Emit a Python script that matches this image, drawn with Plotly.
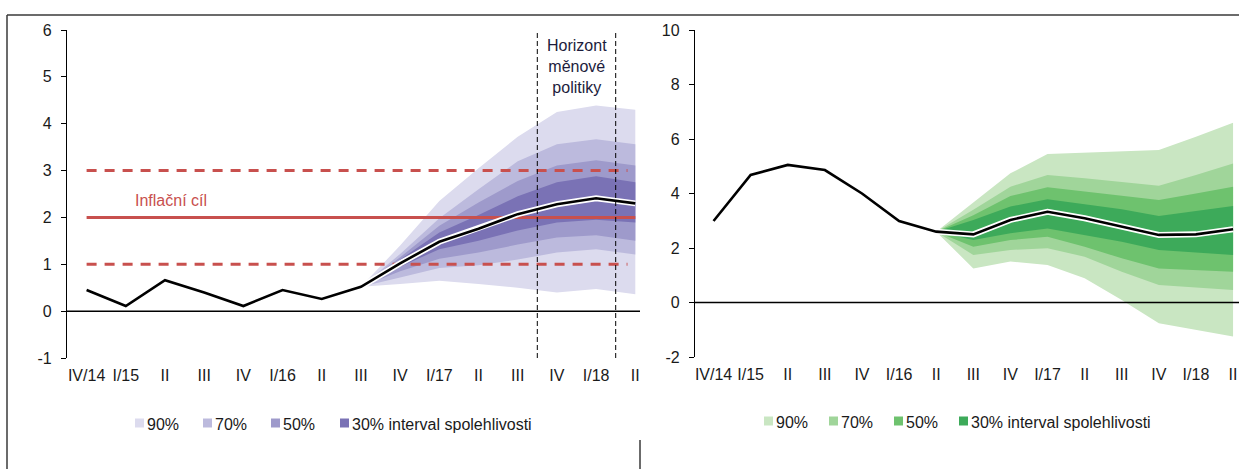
"""Fan charts: inflation forecast (left) and GDP growth forecast (right)."""

import plotly.graph_objects as go

W, H = 1239, 469

quarters = ["IV/14", "I/15", "II", "III", "IV", "I/16", "II", "III",
            "IV", "I/17", "II", "III", "IV", "I/18", "II"]

# left panel - inflation, fan starts at III/16
inflation = [0.45, 0.11, 0.66, 0.40, 0.11, 0.45, 0.26, 0.52,
             1.02, 1.48, 1.76, 2.07, 2.28, 2.41, 2.30]
infl_fan_start = 7
infl_u90 = [0.52, 1.40, 2.35, 3.05, 3.72, 4.25, 4.39, 4.30]
infl_u70 = [0.52, 1.22, 1.98, 2.60, 3.20, 3.56, 3.67, 3.56]
infl_u50 = [0.52, 1.15, 1.82, 2.32, 2.78, 3.11, 3.22, 3.11]
infl_u30 = [0.52, 1.10, 1.68, 2.05, 2.45, 2.75, 2.88, 2.75]
infl_l30 = [0.52, 0.95, 1.32, 1.50, 1.72, 1.89, 1.95, 1.89]
infl_l50 = [0.52, 0.85, 1.12, 1.25, 1.42, 1.57, 1.62, 1.50]
infl_l70 = [0.52, 0.72, 0.92, 0.98, 1.10, 1.25, 1.32, 1.21]
infl_l90 = [0.52, 0.58, 0.65, 0.58, 0.50, 0.40, 0.47, 0.36]
infl_ticks = [-1, 0, 1, 2, 3, 4, 5, 6]
target = 2
target_band = [1, 3]
horizon = [11.5, 13.5]

# right panel - GDP, fan starts at II/16
gdp = [2.99, 4.68, 5.05, 4.86, 4.00, 2.99, 2.60, 2.50,
       3.03, 3.33, 3.09, 2.78, 2.48, 2.50, 2.69]
gdp_fan_start = 6
gdp_u90 = [2.60, 3.66, 4.74, 5.45, 5.50, 5.55, 5.60, 6.08, 6.60]
gdp_u70 = [2.60, 3.40, 4.25, 4.68, 4.56, 4.43, 4.28, 4.68, 5.10]
gdp_u50 = [2.60, 3.20, 3.91, 4.23, 4.07, 3.91, 3.76, 4.00, 4.25]
gdp_u30 = [2.60, 3.03, 3.52, 3.79, 3.61, 3.42, 3.17, 3.36, 3.54]
gdp_l30 = [2.60, 2.29, 2.54, 2.72, 2.48, 2.23, 1.93, 1.83, 1.74]
gdp_l50 = [2.60, 2.05, 2.29, 2.41, 2.05, 1.62, 1.25, 1.19, 1.13]
gdp_l70 = [2.60, 1.74, 1.93, 1.99, 1.68, 1.13, 0.64, 0.56, 0.46]
gdp_l90 = [2.60, 1.25, 1.50, 1.38, 0.89, 0.09, -0.76, -1.00, -1.25]
gdp_ticks = [-2, 0, 2, 4, 6, 8, 10]

band_names = ["90%", "70%", "50%", "30% interval spolehlivosti"]
purples = ["#DCDBEE", "#BCBADD", "#9E9ACB", "#7A72B5"]
greens = ["#C9E6C2", "#A0D59A", "#6EC26E", "#3DAA5A"]
RED = "#C8504E"
FONT = "Liberation Sans, Arial, sans-serif"


def px_x(p):
    return p / W


def px_y(p):
    return 1 - p / H


fig = go.Figure()


def add_fan(start, uppers, lowers, colors, xa, ya):
    for up, lo, col in zip(uppers, lowers, colors):
        xs = list(range(start, start + len(up)))
        fig.add_trace(go.Scatter(
            x=xs + xs[::-1], y=up + lo[::-1], fill="toself", fillcolor=col,
            line=dict(width=0), mode="lines", hoverinfo="skip",
            showlegend=False, xaxis=xa, yaxis=ya,
        ))


def add_line(values, xa, ya):
    xs = list(range(len(values)))
    fig.add_trace(go.Scatter(x=xs, y=values, mode="lines", line=dict(color="white", width=6),
                             showlegend=False, hoverinfo="skip", xaxis=xa, yaxis=ya))
    fig.add_trace(go.Scatter(x=xs, y=values, mode="lines", line=dict(color="black", width=2.6),
                             showlegend=False, xaxis=xa, yaxis=ya))


# left panel
add_fan(infl_fan_start,
        [infl_u90, infl_u70, infl_u50, infl_u30],
        [infl_l90, infl_l70, infl_l50, infl_l30], purples, "x", "y")
# target and tolerance band
fig.add_trace(go.Scatter(x=[0, 14], y=[target, target], mode="lines",
                         line=dict(color=RED, width=3), showlegend=False, xaxis="x", yaxis="y"))
for b in target_band:
    fig.add_trace(go.Scatter(x=[0, 13.8], y=[b, b], mode="lines",
                             line=dict(color=RED, width=3, dash="10px,8px"),
                             showlegend=False, xaxis="x", yaxis="y"))
add_line(inflation, "x", "y")

# right panel
add_fan(gdp_fan_start,
        [gdp_u90, gdp_u70, gdp_u50, gdp_u30],
        [gdp_l90, gdp_l70, gdp_l50, gdp_l30], greens, "x2", "y2")
add_line(gdp, "x2", "y2")

shapes = []
# zero lines on top of the fans
for xa, ya in [("x", "y"), ("x2", "y2")]:
    shapes.append(dict(type="line", xref=f"{xa} domain", yref=ya, x0=0, x1=1, y0=0, y1=0,
                       layer="above", line=dict(color="black", width=1.5)))
for hx in horizon:
    shapes.append(dict(type="line", xref="x", yref="y", x0=hx, x1=hx, y0=-1, y1=6,
                       line=dict(color="black", width=1, dash="5px,3px")))

# frame of the pasted picture
frame = dict(color="#3a3a3a", width=1.5)
shapes.append(dict(type="line", xref="paper", yref="paper", x0=px_x(7), x1=1,
                   y0=px_y(15), y1=px_y(15), line=frame))
shapes.append(dict(type="line", xref="paper", yref="paper", x0=px_x(7), x1=px_x(7),
                   y0=px_y(15), y1=0, line=frame))
shapes.append(dict(type="line", xref="paper", yref="paper", x0=px_x(640), x1=px_x(640),
                   y0=px_y(440), y1=0, line=frame))

annotations = [
    dict(text="Inflační cíl", x=2.15, y=2.37, xref="x", yref="y", showarrow=False,
         font=dict(color=RED, size=16, family=FONT)),
    dict(text="Horizont<br>měnové<br>politiky", x=12.5, y=5.9, xref="x", yref="y",
         yanchor="top", showarrow=False,
         font=dict(color="#1c1c3c", size=16, family=FONT)),
]

# legends drawn by hand: square + label
legend_left = [135, 203, 271, 340]
legend_right = [764, 829, 894, 959]
for xs, cols, yc in [(legend_left, purples, 423), (legend_right, greens, 421)]:
    for x0, col, name in zip(xs, cols, band_names):
        shapes.append(dict(type="rect", xref="paper", yref="paper",
                           x0=px_x(x0), x1=px_x(x0 + 9), y0=px_y(yc + 4.5), y1=px_y(yc - 4.5),
                           fillcolor=col, line=dict(width=0)))
        annotations.append(dict(text=name, x=px_x(x0 + 10), y=px_y(yc + 1), xref="paper",
                                yref="paper", xanchor="left", yanchor="middle", showarrow=False,
                                font=dict(size=16, color="#1a1a1a", family=FONT)))

axis_font = dict(size=16, color="#1a1a1a", family=FONT)
xcommon = dict(tickmode="array", tickvals=list(range(len(quarters))), ticktext=quarters,
               showgrid=False, zeroline=False, showline=False, ticks="",
               tickfont=axis_font, ticklabelstandoff=6, ticklabeloverflow="allow",
               automargin=False, fixedrange=True)
ycommon = dict(showgrid=False, zeroline=False,
               showline=True, linecolor="black", linewidth=1.3, ticks="outside",
               ticklen=5, tickcolor="black", tickfont=axis_font, ticklabelstandoff=6,
               tickmode="array", automargin=False, fixedrange=True)

fig.update_layout(
    template="none",
    width=W, height=H,
    margin=dict(l=0, r=0, t=0, b=0, pad=0, autoexpand=False),
    plot_bgcolor="white", paper_bgcolor="white",
    showlegend=False,
    xaxis=dict(domain=[px_x(67), px_x(640)], range=[-0.5, 14.12], anchor="y", **xcommon),
    yaxis=dict(domain=[px_y(358), px_y(30)], range=[-1, 6], anchor="x",
               tickvals=infl_ticks, ticktext=[str(t) for t in infl_ticks], **ycommon),
    xaxis2=dict(domain=[px_x(695), 1], range=[-0.5, 14.16], anchor="y2", **xcommon),
    yaxis2=dict(domain=[px_y(357), px_y(30)], range=[-2, 10], anchor="x2",
                tickvals=gdp_ticks, ticktext=[str(t) for t in gdp_ticks], **ycommon),
    shapes=shapes,
    annotations=annotations,
)

# pin the plot to the top-left corner of the page
pin = ("document.body.style.margin='0';"
       "var gd=document.getElementById('{plot_id}');"
       "gd.style.position='absolute';gd.style.left='0px';gd.style.top='0px';")
fig.write_html("out.html", config={"displayModeBar": False}, post_script=pin)
